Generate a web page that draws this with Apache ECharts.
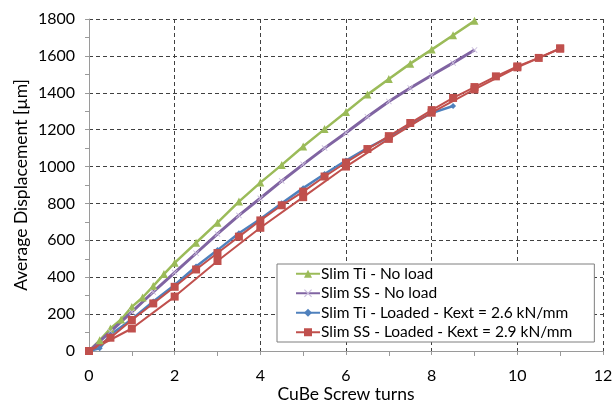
<!DOCTYPE html>
<html><head><meta charset="utf-8">
<script src="https://cdn.jsdelivr.net/npm/echarts@6/dist/echarts.min.js"></script>
<style>html,body{margin:0;padding:0;background:#fff}#c{width:616px;height:401px}</style>
</head><body><div id="c"></div>
<script>
const seriesNames = ['Slim Ti - No load', 'Slim SS - No load', 'Slim Ti - Loaded - Kext = 2.6 kN/mm', 'Slim SS - Loaded - Kext = 2.9 kN/mm'];
const tiNoLoadX = [0, 0.25, 0.5, 0.75, 1, 1.25, 1.5, 1.75, 2, 2.5, 3, 3.5, 4, 4.5, 5, 5.5, 6, 6.5, 7, 7.5, 8, 8.5, 9];
const tiNoLoadY = [0, 58, 122, 171, 239, 290, 352, 417, 478, 587, 696, 810, 913, 1009, 1109, 1203, 1296, 1390, 1475, 1558, 1634, 1712, 1790];
const ssNoLoadX = [0, 0.5, 1, 1.5, 2, 2.5, 3, 3.5, 4, 4.5, 5, 5.5, 6, 6.5, 7, 7.5, 8, 8.5, 9];
const ssNoLoadY = [0, 105, 212, 320, 425, 530, 635, 735, 828, 922, 1012, 1100, 1183, 1270, 1353, 1426, 1495, 1562, 1632];
const tiLoadedX = [0, 0.25, 0.5, 1, 1.5, 2, 2.5, 3, 3.5, 4, 4.5, 5, 5.5, 6, 6.5, 7, 7.5, 8, 8.5];
const tiLoadedY = [0, 15, 88, 172, 268, 358, 458, 547, 638, 716, 801, 883, 960, 1033, 1100, 1160, 1230, 1290, 1328];
const ssLoadedAX = [0, 0.5, 1, 1.5, 2, 2.5, 3, 3.5, 4, 4.5, 5, 5.5, 6, 6.5, 7, 7.5, 8, 8.5, 9, 9.5, 10, 10.5, 11];
const ssLoadedAY = [0, 72, 168, 258, 348, 442, 531, 620, 708, 790, 864, 946, 1022, 1095, 1165, 1236, 1306, 1372, 1431, 1489, 1543, 1589, 1640];
const ssLoadedBX = [0, 1, 2, 3, 4, 5, 6, 7, 8, 9, 10, 11];
const ssLoadedBY = [0, 122, 295, 488, 668, 834, 1000, 1150, 1292, 1418, 1538, 1640];
const xTicks = [0, 2, 4, 6, 8, 10, 12];
const yTicks = [0, 200, 400, 600, 800, 1000, 1200, 1400, 1600, 1800];

const zip = (xs, ys) => xs.map((x, i) => [x, ys[i]]);
const FONT = 'Lato';
const crossPath = 'path://M0,1L1,0L5,4L9,0L10,1L6,5L10,9L9,10L5,6L1,10L0,9L4,5Z';

const chart = echarts.init(document.getElementById('c'));
chart.setOption({
  animation: false,
  textStyle: { fontFamily: FONT },
  grid: { left: 89, right: 13, top: 19, bottom: 50, outerBoundsMode: 'none', containLabel: false },
  legend: {
    data: seriesNames,
    orient: 'vertical', left: 277, top: 264,
    backgroundColor: '#fff', borderColor: '#7f7f7f', borderWidth: 1,
    padding: [0, 22, 0, 18],
    itemGap: 0, itemWidth: 24, itemHeight: 10,
    textStyle: { fontFamily: FONT, fontSize: 15.5, lineHeight: 19.5, color: '#000', padding: [0, 0, 0, -4] }
  },
  xAxis: {
    type: 'value', min: xTicks[0], max: xTicks[xTicks.length - 1], interval: 2,
    name: 'CuBe Screw turns', nameLocation: 'middle', nameGap: 34, nameMoveOverlap: false,
    nameTextStyle: { fontFamily: FONT, fontSize: 17.5, color: '#000' },
    axisLine: { show: true, lineStyle: { color: '#9a9a9a', width: 1 } },
    axisTick: { show: true, length: 4, lineStyle: { color: '#9a9a9a' } },
    minorTick: { show: true, splitNumber: 2, length: 5, lineStyle: { color: '#9a9a9a' } },
    axisLabel: { fontFamily: FONT, fontSize: 16, color: '#000', margin: 17 },
    splitLine: { show: true, lineStyle: { color: '#404040', type: [4, 3], width: 1 } }
  },
  yAxis: {
    type: 'value', min: yTicks[0], max: yTicks[yTicks.length - 1], interval: 200,
    name: 'Average Displacement [µm]', nameLocation: 'middle', nameGap: 59, nameMoveOverlap: false,
    nameTextStyle: { fontFamily: FONT, fontSize: 17.5, color: '#000' },
    axisLine: { show: true, lineStyle: { color: '#9a9a9a', width: 1 } },
    axisTick: { show: true, length: 4, lineStyle: { color: '#9a9a9a' } },
    minorTick: { show: true, splitNumber: 2, length: 4, lineStyle: { color: '#9a9a9a' } },
    axisLabel: { fontFamily: FONT, fontSize: 16, color: '#000', margin: 14, formatter: v => String(v) },
    splitLine: { show: true, lineStyle: { color: '#404040', type: [4, 3], width: 1 } }
  },
  series: [
    { name: seriesNames[0], type: 'line', data: zip(tiNoLoadX, tiNoLoadY), color: '#9BBB59',
      symbol: 'triangle', symbolSize: 8, showAllSymbol: true, lineStyle: { width: 2.5 } },
    { name: seriesNames[1], type: 'line', data: zip(ssNoLoadX, ssNoLoadY), color: '#8064A2',
      symbol: crossPath, symbolSize: 6, showAllSymbol: true, itemStyle: { color: '#c9bcdc' }, lineStyle: { width: 3, color: '#8064A2' } },
    { name: seriesNames[2], type: 'line', data: zip(tiLoadedX, tiLoadedY), color: '#4F81BD',
      symbol: 'diamond', symbolSize: 6, showAllSymbol: true, lineStyle: { width: 2.5 } },
    { name: seriesNames[3], type: 'line', data: zip(ssLoadedAX, ssLoadedAY), color: '#C0504D',
      symbol: 'rect', symbolSize: 8, showAllSymbol: true, lineStyle: { width: 2 } },
    { name: seriesNames[3], type: 'line', data: zip(ssLoadedBX, ssLoadedBY), color: '#C0504D',
      symbol: 'rect', symbolSize: 8, showAllSymbol: true, lineStyle: { width: 2 } }
  ]
});
</script></body></html>
